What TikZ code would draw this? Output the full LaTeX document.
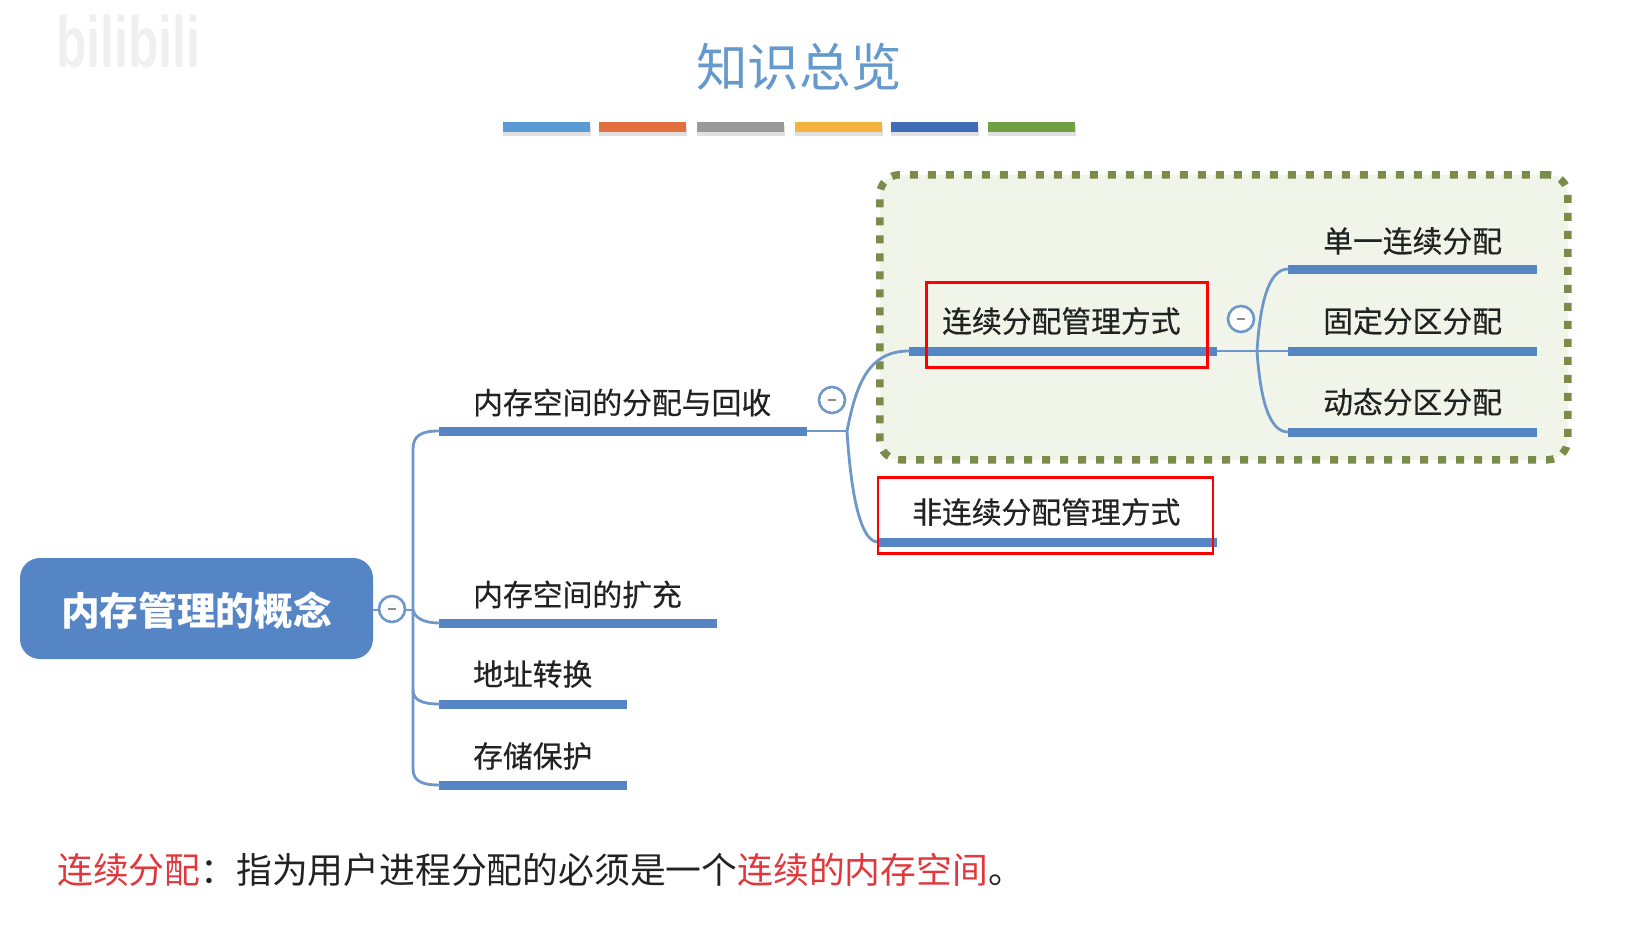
\documentclass[tikz,border=0pt]{standalone}
\usepackage{fontspec}
\setmainfont{Noto Sans CJK SC}
\newfontfamily\latinfont{Liberation Sans}
\definecolor{mapblue}{HTML}{5585C5}
\definecolor{linkblue}{HTML}{6E97C9}
\definecolor{olive}{HTML}{7A8B4A}
\definecolor{palegreen}{HTML}{F1F4E8}
\definecolor{inkc}{HTML}{222222}
\definecolor{redc}{HTML}{E0383C}
\definecolor{titlec}{HTML}{6699CC}
\tikzset{
  barnode/.style={fill=mapblue,inner sep=0pt,minimum height=9pt,anchor=west},
  link/.style={draw=linkblue,line width=2.8pt,line cap=round},
  label/.style={anchor=west,inner sep=0pt,text=inkc,font=\fontsize{29.8}{32}\selectfont\addfontfeature{FakeBold=0.5}},
  redbox/.style={draw=red,line width=2.8pt,fill=none,inner sep=0pt,anchor=north west},
  fold/.style={circle,draw=linkblue,line width=2.6pt,fill=white,minimum size=26pt,inner sep=0pt,
    path picture={\draw[gray!90,line width=2.4pt] (path picture bounding box.center) +(-4pt,0) -- +(4pt,0);}},
  colorbar/.style={inner sep=0pt,minimum height=10pt,anchor=west,minimum width=87pt},
  shadowbar/.style={fill=black,opacity=.12,inner sep=0pt,minimum height=10pt,anchor=west,minimum width=88pt},
}
\begin{document}
\begin{tikzpicture}[x=1pt,y=-1pt]
\useasboundingbox (0,0) rectangle (1637,939);
% watermark
\node[inner sep=0pt,anchor=west,text=black!6,xscale=.86,yscale=1.25] (wm) at (56,42) {\latinfont\bfseries\fontsize{58}{60}\selectfont bilibili};
% title
\node[inner sep=0pt,text=titlec,font=\fontsize{51.5}{54}\selectfont] (title) at (799,67) {知识总览};
% colour bars
\foreach \n/\x/\c in {a/503/5B9BD5,b/599/E2703F,c/697/999999,d/795/F4B33F,e/891/3F6CB5,f/988/70A044}{
  \node[shadowbar] (s\n) at (\x,131) {};
  \definecolor{tmpc}{HTML}{\c}
  \node[colorbar,fill=tmpc] (k\n) at (\x,127) {};
}
% highlight group
\node[draw=olive,fill=palegreen,line width=7.5pt,dash pattern=on 8pt off 10pt,rounded corners=20pt,
  minimum width=688pt,minimum height=285pt,inner sep=0pt,anchor=north west] (group) at (876,171) {};
% root
\node[fill=mapblue,rounded corners=20pt,minimum width=353pt,minimum height=101pt,inner sep=0pt] (root) at (196.5,608.5) {};
\node[inner sep=0pt,text=white,font=\bfseries\fontsize{38.7}{40}\selectfont] (roottext) at (196.5,611) {内存管理的概念};
% bars
\node[barnode,minimum width=368pt] (b1) at (439,431) {};
\node[barnode,minimum width=278pt] (b2) at (439,623) {};
\node[barnode,minimum width=188pt] (b3) at (439,704) {};
\node[barnode,minimum width=188pt] (b4) at (439,785) {};
\node[barnode,minimum width=308pt] (c1) at (909,351) {};
\node[barnode,minimum width=339pt] (c2) at (878,542) {};
\node[barnode,minimum width=249pt] (d1) at (1288,269) {};
\node[barnode,minimum width=249pt] (d2) at (1288,351) {};
\node[barnode,minimum width=249pt] (d3) at (1288,432) {};
% hubs
\coordinate (h0) at (413,610);
\coordinate (h1) at (847,431);
\coordinate (h2) at (1257,351);
% connectors
\draw[link] (root.east |- h0) -- (h0);
\draw[link] (b1.west) .. controls (422,431) and (413,435) .. (413,449) -- (413,769) .. controls (413,781) and (422,785) .. (b4.west);
\draw[link] (h0) .. controls (415,618) and (424,623) .. (b2.west);
\draw[link] (413,690) .. controls (413,700) and (422,704) .. (b3.west);
\draw[link] (b1.east) -- (h1);
\draw[link] (h1) .. controls (856,385) and (868,351) .. (c1.west);
\draw[link] (h1) .. controls (850,480) and (858,542) .. (c2.west);
\draw[link] (c1.east) -- (d2.west);
\draw[link] (h2) .. controls (1260,305) and (1268,269) .. (d1.west);
\draw[link] (h2) .. controls (1260,395) and (1268,432) .. (d3.west);
% fold markers
\node[fold] (f0) at (392,609) {};
\node[fold] (f1) at (832,400) {};
\node[fold] (f2) at (1241,319) {};
% labels
\node[label] (t1) at (473,402.5) {内存空间的分配与回收};
\node[label] (t2) at (473,594.5) {内存空间的扩充};
\node[label] (t3) at (473,674) {地址转换};
\node[label] (t4) at (473,756) {存储保护};
\node[label] (t5) at (942,321) {连续分配管理方式};
\node[label] (t6) at (912,512) {非连续分配管理方式};
\node[label] (t7) at (1323,241) {单一连续分配};
\node[label] (t8) at (1323,321) {固定分区分配};
\node[label] (t9) at (1323,402) {动态分区分配};
% red frames
\node[redbox,minimum width=281pt,minimum height=85pt] (r1) at (925,281) {};
\node[redbox,minimum width=335pt,minimum height=76pt] (r2) at (876.5,476) {};
% note
\node[inner sep=0pt,anchor=west,text=inkc,font=\fontsize{35.8}{38}\selectfont] (note) at (57,870)
  {\textcolor{redc}{连续分配}：指为用户进程分配的必须是一个\textcolor{redc}{连续的内存空间}。};
\end{tikzpicture}
\end{document}
